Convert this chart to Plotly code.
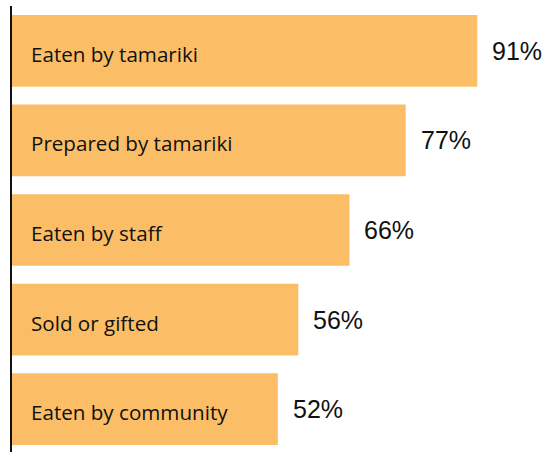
import plotly.graph_objects as go

# Share of produce use, by destination
categories = ["Eaten by tamariki", "Prepared by tamariki", "Eaten by staff",
              "Sold or gifted", "Eaten by community"]
values = [91, 77, 66, 56, 52]
value_labels = ["91%", "77%", "66%", "56%", "52%"]

BAR_COLOR = "#FBBE67"
ypos = list(range(len(categories)))

fig = go.Figure(
    go.Bar(
        x=values,
        y=ypos,
        orientation="h",
        width=0.8,
        marker=dict(color=BAR_COLOR, line=dict(width=0)),
        hoverinfo="skip",
    )
)

annotations = []
for i, (cat, v, lab) in enumerate(zip(categories, values, value_labels)):
    # category name inside the bar, near the axis
    annotations.append(dict(
        x=0, y=i, xref="x", yref="y", text=cat, showarrow=False,
        xanchor="left", yanchor="middle", xshift=17, yshift=-3,
        font=dict(family="Open Sans, Noto Sans, sans-serif", size=20.6, color="#111111"),
    ))
    # value just past the bar end
    annotations.append(dict(
        x=v, y=i, xref="x", yref="y", text=lab, showarrow=False,
        xanchor="left", yanchor="middle", xshift=13,
        font=dict(family="Liberation Sans, Arial, sans-serif", size=25, color="#111111"),
    ))

fig.update_layout(
    width=556, height=452,
    margin=dict(l=12, r=0, t=6, b=0),
    paper_bgcolor="white", plot_bgcolor="white",
    showlegend=False,
    annotations=annotations,
    bargap=0.2,
)
fig.update_xaxes(range=[0, 106.4], visible=False, fixedrange=True)
fig.update_yaxes(
    range=[4.478, -0.5], showticklabels=False, showgrid=False, zeroline=False,
    showline=True, linecolor="#111111", linewidth=2, ticks="", fixedrange=True,
)

fig.write_html("out.html")
